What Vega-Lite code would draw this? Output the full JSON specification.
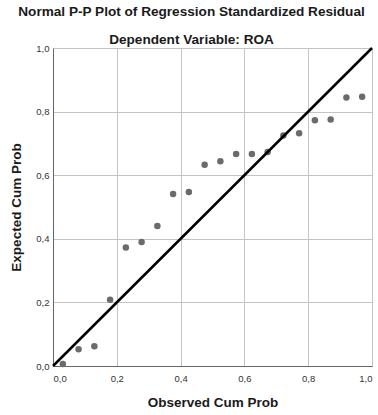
{
  "$schema": "https://vega.github.io/schema/vega-lite/v6.json",
  "autosize": {"type": "none"},
  "width": 319,
  "height": 318,
  "padding": {"left": 53, "top": 48, "right": 6, "bottom": 49},
  "background": "white",
  "title": {
    "text": "Normal P-P Plot of Regression Standardized Residual",
    "subtitle": "Dependent Variable: ROA",
    "font": "Liberation Sans",
    "fontSize": 13.6,
    "fontWeight": "bold",
    "color": "#1a1a1a",
    "subtitleFont": "Liberation Sans",
    "subtitleFontSize": 13.6,
    "subtitleFontWeight": "bold",
    "subtitleColor": "#1a1a1a",
    "subtitlePadding": 15,
    "anchor": "middle",
    "frame": "bounds",
    "offset": -4
  },
  "datasets": {
    "pts": [
      {"obs": 0.0309, "exp": 0.006},
      {"obs": 0.0802, "exp": 0.053},
      {"obs": 0.1296, "exp": 0.062},
      {"obs": 0.1790, "exp": 0.208},
      {"obs": 0.2284, "exp": 0.373},
      {"obs": 0.2778, "exp": 0.390},
      {"obs": 0.3272, "exp": 0.440},
      {"obs": 0.3765, "exp": 0.541},
      {"obs": 0.4259, "exp": 0.547},
      {"obs": 0.4753, "exp": 0.633},
      {"obs": 0.5247, "exp": 0.644},
      {"obs": 0.5741, "exp": 0.667},
      {"obs": 0.6235, "exp": 0.667},
      {"obs": 0.6728, "exp": 0.673},
      {"obs": 0.7222, "exp": 0.725},
      {"obs": 0.7716, "exp": 0.732},
      {"obs": 0.8210, "exp": 0.773},
      {"obs": 0.8704, "exp": 0.775},
      {"obs": 0.9198, "exp": 0.844},
      {"obs": 0.9691, "exp": 0.847}
    ],
    "diag": [{"obs": 0, "exp": 0, "obs2": 1, "exp2": 1}]
  },
  "layer": [
    {
      "data": {"name": "pts"},
      "mark": {"type": "circle", "size": 42, "color": "#6b6b6b", "opacity": 1},
      "encoding": {
        "x": {
          "field": "obs", "type": "quantitative",
          "scale": {"domain": [0, 1], "nice": false},
          "axis": {
            "title": "Observed Cum Prob",
            "values": [0, 0.2, 0.4, 0.6, 0.8, 1.0],
            "labelExpr": "replace(format(datum.value, '.1f'), '.', ',')"
          }
        },
        "y": {
          "field": "exp", "type": "quantitative",
          "scale": {"domain": [0, 1], "nice": false},
          "axis": {
            "title": "Expected Cum Prob",
            "values": [0, 0.2, 0.4, 0.6, 0.8, 1.0],
            "labelExpr": "replace(format(datum.value, '.1f'), '.', ',')"
          }
        }
      }
    },
    {
      "data": {"name": "diag"},
      "mark": {"type": "rule", "color": "#000000", "strokeWidth": 2.5},
      "encoding": {
        "x": {"field": "obs", "type": "quantitative"},
        "y": {"field": "exp", "type": "quantitative"},
        "x2": {"field": "obs2"},
        "y2": {"field": "exp2"}
      }
    }
  ],
  "config": {
    "view": {"stroke": null},
    "axis": {
      "labelFont": "Liberation Sans",
      "labelFontSize": 9.5,
      "labelColor": "#333333",
      "titleFont": "Liberation Sans",
      "titleFontSize": 13.5,
      "titleFontWeight": "bold",
      "titleColor": "#1a1a1a",
      "ticks": false,
      "labelPadding": 4,
      "domainColor": "#666666",
      "gridColor": "#c4c4c4",
      "gridWidth": 1
    },
    "axisX": {"labelPadding": 7, "titlePadding": 13},
    "axisY": {"titlePadding": 12}
  }
}
